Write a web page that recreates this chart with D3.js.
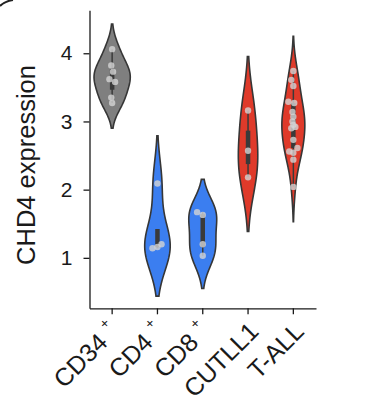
<!DOCTYPE html>
<html>
<head>
<meta charset="utf-8">
<script src="https://cdn.jsdelivr.net/npm/d3@7"></script>
<style>
  body { margin: 0; background: #fff; }
  svg { display: block; }
  text { font-family: "Liberation Sans", Arial, Helvetica, sans-serif; fill: #1a1a1a; }
</style>
</head>
<body>
<div id="chart"></div>
<script>
// groups and their colours
let groups = ["CD34", "CD4", "CD8", "CUTLL1", "T-ALL"];
let groupSup = ["+", "+", "+", "", ""];
let colors = ["#7f7f7f", "#3b7ef0", "#3b7ef0", "#df3a2a", "#df3a2a"];

// CHD4 expression per sample
let cd34 = [4.06, 3.82, 3.73, 3.62, 3.58, 3.35, 3.27];
let cd4 = [2.09, 1.20, 1.16, 1.14];
let cd8 = [1.67, 1.63, 1.20, 1.03];
let cutll1 = [3.16, 2.57, 2.18];
let tall = [3.74, 3.61, 3.52, 3.29, 3.27, 3.14, 3.07, 3.00, 2.95, 2.92, 2.90, 2.73, 2.61, 2.56, 2.54, 2.44, 2.04];

// strip jitter (fraction of band) for each point, same order as above
let jitter = [
    [0, -0.02, 0.02, -0.06, 0.065, -0.02, 0],
    [0, 0.09, 0, -0.11],
    [-0.125, 0, 0, 0],
    [0, 0, 0],
    [0, -0.045, 0, -0.11, 0.02, -0.02, 0, -0.02, 0, 0.045, -0.045, 0, 0.09, -0.09, 0, 0, 0]
];

let yTicks = [1, 2, 3, 4];

let values = [cd34, cd4, cd8, cutll1, tall];

let width = 368, height = 402;
let svg = d3.select("#chart").append("svg")
    .attr("width", width)
    .attr("height", height);

let x = d3.scaleBand().domain(groups).range([89.5, 316]).padding(0);
let y = d3.scaleLinear().domain([0.26, 4.63]).range([308.3, 10.3]);

// gaussian kde, scott bandwidth, cut = 2 (like seaborn)
function kde(data) {
    let n = data.length;
    let bw = d3.deviation(data) * Math.pow(n, -1 / 5);
    let lo = d3.min(data) - 2 * bw, hi = d3.max(data) + 2 * bw;
    let grid = d3.range(100).map(i => lo + (hi - lo) * i / 99);
    return grid.map(function(g) {
        let s = d3.sum(data, d => Math.exp(-0.5 * Math.pow((g - d) / bw, 2)));
        return { v: g, d: s / (n * bw * Math.sqrt(2 * Math.PI)) };
    });
}

let densities = values.map(kde);
let maxDens = d3.max(densities, ds => d3.max(ds, d => d.d));
let halfMax = x.bandwidth() * 0.4;

// violins
groups.forEach(function(g, i) {
    let cx = x(g) + x.bandwidth() / 2;
    let area = d3.area()
        .y(d => y(d.v))
        .x0(d => cx - halfMax * d.d / maxDens)
        .x1(d => cx + halfMax * d.d / maxDens);
    svg.append("path")
        .datum(densities[i])
        .attr("d", area)
        .attr("fill", colors[i])
        .attr("stroke", "#363636")
        .attr("stroke-width", 1.6);

    // inner box
    let sorted = values[i].slice().sort(d3.ascending);
    let q1 = d3.quantile(sorted, 0.25), q3 = d3.quantile(sorted, 0.75);
    let iqr = q3 - q1;
    let wLo = d3.min(sorted.filter(v => v >= q1 - 1.5 * iqr));
    let wHi = d3.max(sorted.filter(v => v <= q3 + 1.5 * iqr));
    svg.append("line")
        .attr("x1", cx).attr("x2", cx)
        .attr("y1", y(wLo)).attr("y2", y(wHi))
        .attr("stroke", "#3a3a3a").attr("stroke-width", 1.5);
    svg.append("line")
        .attr("x1", cx).attr("x2", cx)
        .attr("y1", y(q1)).attr("y2", y(q3))
        .attr("stroke", "#3a3a3a").attr("stroke-width", 4.5);

    // points
    svg.append("g").selectAll("circle")
        .data(values[i])
        .enter().append("circle")
        .attr("cx", (d, j) => cx + jitter[i][j] * x.bandwidth())
        .attr("cy", d => y(d))
        .attr("r", 3.2)
        .attr("fill", "#d4d4d4")
        .attr("fill-opacity", 0.8);
});

// axes
let yAxis = d3.axisLeft(y).tickValues(yTicks).tickFormat(d3.format("d"))
    .tickSize(6).tickPadding(11).tickSizeOuter(0);
let yg = svg.append("g").attr("transform", "translate(89.5,0)").call(yAxis);
yg.selectAll("text").style("font-size", "21px");

let xAxis = d3.axisBottom(x).tickSize(6).tickSizeOuter(0).tickFormat("");
let xg = svg.append("g").attr("transform", "translate(0,308.3)").call(xAxis);

[yg, xg].forEach(function(a) {
    a.select(".domain").attr("stroke", "#1a1a1a").attr("stroke-width", 1.3);
    a.selectAll(".tick line").attr("stroke", "#1a1a1a").attr("stroke-width", 1.3);
});

// rotated category labels
groups.forEach(function(g, i) {
    let cx = x(g) + x.bandwidth() / 2;
    let hasSup = groupSup[i] != "";
    let ex = hasSup ? cx - 3 : cx + 12;
    let ey = hasSup ? 344 : 333;
    let lab = svg.append("g")
        .attr("transform", "translate(" + ex + "," + ey + ") rotate(-45)");
    lab.append("text")
        .attr("text-anchor", "end")
        .style("font-size", "25px")
        .text(g);
    if (hasSup) {
        lab.append("text")
            .attr("x", 7).attr("y", -13)
            .style("font-size", "14px")
            .text(groupSup[i]);
    }
});

// y axis title
svg.append("text")
    .attr("transform", "translate(35,165) rotate(-90)")
    .attr("text-anchor", "middle")
    .style("font-size", "25.5px")
    .text("CHD4 expression");

// cropped mark from neighbouring panel
svg.append("path")
    .attr("d", "M0,6 Q5,1 13,0")
    .attr("fill", "none")
    .attr("stroke", "#222")
    .attr("stroke-width", 2);
</script>
</body>
</html>
